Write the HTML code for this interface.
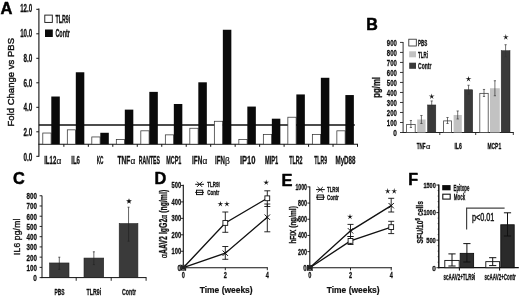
<!DOCTYPE html>
<html><head><meta charset="utf-8"><title>Figure</title>
<style>
html,body{margin:0;padding:0;background:#fff;}
body{width:520px;height:297px;overflow:hidden;font-family:"Liberation Sans",sans-serif;}
svg{display:block;font-family:"Liberation Sans",sans-serif;}
</style></head><body>
<svg width="520" height="297" viewBox="0 0 520 297">
<rect x="0" y="0" width="520" height="297" fill="#fff"/>
<g style="filter:blur(0.45px)">
<text x="0.4" y="13.6" font-size="16.5" font-weight="bold" fill="#000" stroke="#000" stroke-width="0.5" stroke-linejoin="round">A</text>
<text x="366.2" y="30.3" font-size="16.0" font-weight="bold" fill="#000" stroke="#000" stroke-width="0.5" stroke-linejoin="round">B</text>
<text x="12.9" y="184.3" font-size="16.3" font-weight="bold" fill="#000" stroke="#000" stroke-width="0.5" stroke-linejoin="round">C</text>
<text x="154.6" y="184.4" font-size="16.3" font-weight="bold" fill="#000" stroke="#000" stroke-width="0.5" stroke-linejoin="round">D</text>
<text x="281.5" y="186.0" font-size="16.4" font-weight="bold" fill="#000" stroke="#000" stroke-width="0.5" stroke-linejoin="round">E</text>
<text x="408.2" y="184.6" font-size="16" font-weight="bold" fill="#000" stroke="#000" stroke-width="0.5" stroke-linejoin="round">F</text>
<line x1="38.9" y1="8.6" x2="38.9" y2="156.8" stroke="#111" stroke-width="1.1"/>
<line x1="36.3" y1="156.3" x2="38.9" y2="156.3" stroke="#111" stroke-width="1.0"/>
<text x="32.2" y="161.2" font-size="10.4" font-weight="bold" text-anchor="end" fill="#111" textLength="8.8" lengthAdjust="spacingAndGlyphs" stroke="#111" stroke-width="0.3">0.0</text>
<line x1="36.3" y1="131.8" x2="38.9" y2="131.8" stroke="#111" stroke-width="1.0"/>
<text x="32.2" y="136.32" font-size="10.4" font-weight="bold" text-anchor="end" fill="#111" textLength="8.8" lengthAdjust="spacingAndGlyphs" stroke="#111" stroke-width="0.3">2.0</text>
<line x1="36.3" y1="107.30000000000001" x2="38.9" y2="107.30000000000001" stroke="#111" stroke-width="1.0"/>
<text x="32.2" y="111.44" font-size="10.4" font-weight="bold" text-anchor="end" fill="#111" textLength="8.8" lengthAdjust="spacingAndGlyphs" stroke="#111" stroke-width="0.3">4.0</text>
<line x1="36.3" y1="82.80000000000001" x2="38.9" y2="82.80000000000001" stroke="#111" stroke-width="1.0"/>
<text x="32.2" y="86.55999999999999" font-size="10.4" font-weight="bold" text-anchor="end" fill="#111" textLength="8.8" lengthAdjust="spacingAndGlyphs" stroke="#111" stroke-width="0.3">6.0</text>
<line x1="36.3" y1="58.30000000000001" x2="38.9" y2="58.30000000000001" stroke="#111" stroke-width="1.0"/>
<text x="32.2" y="61.67999999999999" font-size="10.4" font-weight="bold" text-anchor="end" fill="#111" textLength="8.8" lengthAdjust="spacingAndGlyphs" stroke="#111" stroke-width="0.3">8.0</text>
<line x1="36.3" y1="33.80000000000001" x2="38.9" y2="33.80000000000001" stroke="#111" stroke-width="1.0"/>
<text x="32.2" y="36.8" font-size="10.4" font-weight="bold" text-anchor="end" fill="#111" textLength="12.0" lengthAdjust="spacingAndGlyphs" stroke="#111" stroke-width="0.3">10.0</text>
<line x1="36.3" y1="9.300000000000011" x2="38.9" y2="9.300000000000011" stroke="#111" stroke-width="1.0"/>
<text x="32.2" y="11.919999999999987" font-size="10.4" font-weight="bold" text-anchor="end" fill="#111" textLength="12.0" lengthAdjust="spacingAndGlyphs" stroke="#111" stroke-width="0.3">12.0</text>
<line x1="38.4" y1="144.2" x2="358.0" y2="144.2" stroke="#111" stroke-width="1.1"/>
<line x1="63.87" y1="144.2" x2="63.87" y2="146.8" stroke="#111" stroke-width="1.0"/>
<line x1="88.34" y1="144.2" x2="88.34" y2="146.8" stroke="#111" stroke-width="1.0"/>
<line x1="112.81" y1="144.2" x2="112.81" y2="146.8" stroke="#111" stroke-width="1.0"/>
<line x1="137.28" y1="144.2" x2="137.28" y2="146.8" stroke="#111" stroke-width="1.0"/>
<line x1="161.75" y1="144.2" x2="161.75" y2="146.8" stroke="#111" stroke-width="1.0"/>
<line x1="186.22" y1="144.2" x2="186.22" y2="146.8" stroke="#111" stroke-width="1.0"/>
<line x1="210.69" y1="144.2" x2="210.69" y2="146.8" stroke="#111" stroke-width="1.0"/>
<line x1="235.16" y1="144.2" x2="235.16" y2="146.8" stroke="#111" stroke-width="1.0"/>
<line x1="259.63" y1="144.2" x2="259.63" y2="146.8" stroke="#111" stroke-width="1.0"/>
<line x1="284.09999999999997" y1="144.2" x2="284.09999999999997" y2="146.8" stroke="#111" stroke-width="1.0"/>
<line x1="308.56999999999994" y1="144.2" x2="308.56999999999994" y2="146.8" stroke="#111" stroke-width="1.0"/>
<line x1="333.03999999999996" y1="144.2" x2="333.03999999999996" y2="146.8" stroke="#111" stroke-width="1.0"/>
<line x1="357.51" y1="144.2" x2="357.51" y2="146.8" stroke="#111" stroke-width="1.0"/>
<line x1="38.9" y1="125.0" x2="354.8" y2="125.0" stroke="#111" stroke-width="1.3"/>
<rect x="42.80" y="133.03" width="8.30" height="11.17" fill="#fff" stroke="#333" stroke-width="0.75"/>
<rect x="51.30" y="96.52" width="8.50" height="47.68" fill="#0a0a0a"/>
<text x="44.2" y="163.7" font-size="10.4" font-weight="bold" text-anchor="start" fill="#111" textLength="12.1" lengthAdjust="spacingAndGlyphs" stroke="#111" stroke-width="0.3">IL12</text>
<text x="56.6" y="163.7" font-size="8.4" font-weight="normal" text-anchor="start" fill="#111" stroke="#111" stroke-width="0.2">α</text>
<rect x="67.31" y="129.84" width="8.30" height="14.36" fill="#fff" stroke="#333" stroke-width="0.75"/>
<rect x="75.81" y="72.27" width="8.50" height="71.93" fill="#0a0a0a"/>
<text x="71.2" y="163.7" font-size="10.4" font-weight="bold" text-anchor="start" fill="#111" textLength="8.8" lengthAdjust="spacingAndGlyphs" stroke="#111" stroke-width="0.3">IL6</text>
<rect x="91.81" y="136.95" width="8.30" height="7.25" fill="#fff" stroke="#333" stroke-width="0.75"/>
<rect x="100.31" y="132.78" width="8.50" height="11.42" fill="#0a0a0a"/>
<text x="96.7" y="163.7" font-size="10.4" font-weight="bold" text-anchor="start" fill="#111" textLength="6.8" lengthAdjust="spacingAndGlyphs" stroke="#111" stroke-width="0.3">KC</text>
<rect x="116.31" y="139.40" width="8.30" height="4.80" fill="#fff" stroke="#333" stroke-width="0.75"/>
<rect x="124.81" y="109.63" width="8.50" height="34.57" fill="#0a0a0a"/>
<text x="117.5" y="163.7" font-size="10.4" font-weight="bold" text-anchor="start" fill="#111" textLength="12.8" lengthAdjust="spacingAndGlyphs" stroke="#111" stroke-width="0.3">TNF</text>
<text x="130.6" y="163.7" font-size="8.4" font-weight="normal" text-anchor="start" fill="#111" stroke="#111" stroke-width="0.2">α</text>
<rect x="140.82" y="130.82" width="8.30" height="13.38" fill="#fff" stroke="#333" stroke-width="0.75"/>
<rect x="149.32" y="91.87" width="8.50" height="52.33" fill="#0a0a0a"/>
<text x="138.7" y="163.7" font-size="10.4" font-weight="bold" text-anchor="start" fill="#111" textLength="21.3" lengthAdjust="spacingAndGlyphs" stroke="#111" stroke-width="0.3">RANTES</text>
<rect x="165.33" y="134.86" width="8.30" height="9.34" fill="#fff" stroke="#333" stroke-width="0.75"/>
<rect x="173.83" y="103.99" width="8.50" height="40.21" fill="#0a0a0a"/>
<text x="166.2" y="163.7" font-size="10.4" font-weight="bold" text-anchor="start" fill="#111" textLength="15.1" lengthAdjust="spacingAndGlyphs" stroke="#111" stroke-width="0.3">MCP1</text>
<rect x="189.83" y="128.25" width="8.30" height="15.95" fill="#fff" stroke="#333" stroke-width="0.75"/>
<rect x="198.33" y="82.31" width="8.50" height="61.89" fill="#0a0a0a"/>
<text x="192.0" y="163.7" font-size="10.4" font-weight="bold" text-anchor="start" fill="#111" textLength="10.3" lengthAdjust="spacingAndGlyphs" stroke="#111" stroke-width="0.3">IFN</text>
<text x="202.6" y="163.7" font-size="8.4" font-weight="normal" text-anchor="start" fill="#111" stroke="#111" stroke-width="0.2">α</text>
<rect x="214.34" y="121.27" width="8.30" height="22.93" fill="#fff" stroke="#333" stroke-width="0.75"/>
<rect x="222.84" y="29.76" width="8.50" height="114.44" fill="#0a0a0a"/>
<text x="215.0" y="163.7" font-size="10.4" font-weight="bold" text-anchor="start" fill="#111" textLength="9.8" lengthAdjust="spacingAndGlyphs" stroke="#111" stroke-width="0.3">IFN</text>
<text x="225.1" y="163.7" font-size="8.4" font-weight="normal" text-anchor="start" fill="#111" stroke="#111" stroke-width="0.2">β</text>
<rect x="238.84" y="139.40" width="8.30" height="4.80" fill="#fff" stroke="#333" stroke-width="0.75"/>
<rect x="247.34" y="106.57" width="8.50" height="37.63" fill="#0a0a0a"/>
<text x="240.0" y="163.7" font-size="10.4" font-weight="bold" text-anchor="start" fill="#111" textLength="15.5" lengthAdjust="spacingAndGlyphs" stroke="#111" stroke-width="0.3">IP10</text>
<rect x="263.34" y="134.37" width="8.30" height="9.83" fill="#fff" stroke="#333" stroke-width="0.75"/>
<rect x="271.84" y="118.69" width="8.50" height="25.51" fill="#0a0a0a"/>
<text x="265.0" y="163.7" font-size="10.4" font-weight="bold" text-anchor="start" fill="#111" textLength="13.3" lengthAdjust="spacingAndGlyphs" stroke="#111" stroke-width="0.3">MIP1</text>
<rect x="287.85" y="117.22" width="8.30" height="26.98" fill="#fff" stroke="#333" stroke-width="0.75"/>
<rect x="296.35" y="94.44" width="8.50" height="49.76" fill="#0a0a0a"/>
<text x="289.2" y="163.7" font-size="10.4" font-weight="bold" text-anchor="start" fill="#111" textLength="13.3" lengthAdjust="spacingAndGlyphs" stroke="#111" stroke-width="0.3">TLR2</text>
<rect x="312.35" y="134.37" width="8.30" height="9.83" fill="#fff" stroke="#333" stroke-width="0.75"/>
<rect x="320.85" y="77.78" width="8.50" height="66.42" fill="#0a0a0a"/>
<text x="314.2" y="163.7" font-size="10.4" font-weight="bold" text-anchor="start" fill="#111" textLength="12.8" lengthAdjust="spacingAndGlyphs" stroke="#111" stroke-width="0.3">TLR9</text>
<rect x="336.86" y="130.82" width="8.30" height="13.38" fill="#fff" stroke="#333" stroke-width="0.75"/>
<rect x="345.36" y="95.05" width="8.50" height="49.15" fill="#0a0a0a"/>
<text x="335.5" y="163.7" font-size="10.4" font-weight="bold" text-anchor="start" fill="#111" textLength="20.0" lengthAdjust="spacingAndGlyphs" stroke="#111" stroke-width="0.3">MyD88</text>
<rect x="44.80" y="15.10" width="7.50" height="7.30" fill="#fff" stroke="#111" stroke-width="0.9"/>
<rect x="45.00" y="29.50" width="7.80" height="7.50" fill="#0a0a0a"/>
<text x="55.4" y="22.9" font-size="11.6" font-weight="bold" text-anchor="start" fill="#111" textLength="14.8" lengthAdjust="spacingAndGlyphs" stroke="#111" stroke-width="0.3">TLR9i</text>
<text x="55.4" y="36.9" font-size="11.6" font-weight="bold" text-anchor="start" fill="#111" textLength="14.6" lengthAdjust="spacingAndGlyphs" stroke="#111" stroke-width="0.3">Contr</text>
<text transform="translate(13.9 126.6) rotate(-90)" font-size="9.5" font-weight="normal" fill="#111" stroke="#111" stroke-width="0.4" textLength="88.6" lengthAdjust="spacing">Fold Change vs PBS</text>
<line x1="403.1" y1="42.0" x2="403.1" y2="133.0" stroke="#333" stroke-width="1.0"/>
<line x1="400.0" y1="132.5" x2="403.1" y2="132.5" stroke="#222" stroke-width="0.9"/>
<text x="396.8" y="135.9" font-size="9.6" font-weight="bold" text-anchor="end" fill="#111" textLength="3.6" lengthAdjust="spacingAndGlyphs" stroke="#111" stroke-width="0.3">0</text>
<line x1="400.0" y1="122.49" x2="403.1" y2="122.49" stroke="#222" stroke-width="0.9"/>
<text x="396.8" y="125.89" font-size="9.6" font-weight="bold" text-anchor="end" fill="#111" textLength="10.0" lengthAdjust="spacingAndGlyphs" stroke="#111" stroke-width="0.3">100</text>
<line x1="400.0" y1="112.48" x2="403.1" y2="112.48" stroke="#222" stroke-width="0.9"/>
<text x="396.8" y="115.88000000000001" font-size="9.6" font-weight="bold" text-anchor="end" fill="#111" textLength="10.0" lengthAdjust="spacingAndGlyphs" stroke="#111" stroke-width="0.3">200</text>
<line x1="400.0" y1="102.47" x2="403.1" y2="102.47" stroke="#222" stroke-width="0.9"/>
<text x="396.8" y="105.87" font-size="9.6" font-weight="bold" text-anchor="end" fill="#111" textLength="10.0" lengthAdjust="spacingAndGlyphs" stroke="#111" stroke-width="0.3">300</text>
<line x1="400.0" y1="92.46000000000001" x2="403.1" y2="92.46000000000001" stroke="#222" stroke-width="0.9"/>
<text x="396.8" y="95.86000000000001" font-size="9.6" font-weight="bold" text-anchor="end" fill="#111" textLength="10.0" lengthAdjust="spacingAndGlyphs" stroke="#111" stroke-width="0.3">400</text>
<line x1="400.0" y1="82.45" x2="403.1" y2="82.45" stroke="#222" stroke-width="0.9"/>
<text x="396.8" y="85.85000000000001" font-size="9.6" font-weight="bold" text-anchor="end" fill="#111" textLength="10.0" lengthAdjust="spacingAndGlyphs" stroke="#111" stroke-width="0.3">500</text>
<line x1="400.0" y1="72.44" x2="403.1" y2="72.44" stroke="#222" stroke-width="0.9"/>
<text x="396.8" y="75.84" font-size="9.6" font-weight="bold" text-anchor="end" fill="#111" textLength="10.0" lengthAdjust="spacingAndGlyphs" stroke="#111" stroke-width="0.3">600</text>
<line x1="400.0" y1="62.43000000000001" x2="403.1" y2="62.43000000000001" stroke="#222" stroke-width="0.9"/>
<text x="396.8" y="65.83000000000001" font-size="9.6" font-weight="bold" text-anchor="end" fill="#111" textLength="10.0" lengthAdjust="spacingAndGlyphs" stroke="#111" stroke-width="0.3">700</text>
<line x1="400.0" y1="52.42" x2="403.1" y2="52.42" stroke="#222" stroke-width="0.9"/>
<text x="396.8" y="55.82" font-size="9.6" font-weight="bold" text-anchor="end" fill="#111" textLength="10.0" lengthAdjust="spacingAndGlyphs" stroke="#111" stroke-width="0.3">800</text>
<line x1="400.0" y1="42.41000000000001" x2="403.1" y2="42.41000000000001" stroke="#222" stroke-width="0.9"/>
<text x="396.8" y="45.81000000000001" font-size="9.6" font-weight="bold" text-anchor="end" fill="#111" textLength="10.0" lengthAdjust="spacingAndGlyphs" stroke="#111" stroke-width="0.3">900</text>
<line x1="402.70000000000005" y1="132.5" x2="513.8" y2="132.5" stroke="#222" stroke-width="1.0"/>
<line x1="439.8" y1="132.5" x2="439.8" y2="135.0" stroke="#222" stroke-width="0.9"/>
<line x1="475.7" y1="132.5" x2="475.7" y2="135.0" stroke="#222" stroke-width="0.9"/>
<line x1="513.3" y1="132.5" x2="513.3" y2="135.0" stroke="#222" stroke-width="0.9"/>
<rect x="406.60" y="124.39" width="8.60" height="8.11" fill="#fff" stroke="#444" stroke-width="0.8"/>
<line x1="410.9" y1="120.488" x2="410.9" y2="127.495" stroke="#333" stroke-width="0.7"/>
<line x1="409.79999999999995" y1="120.488" x2="412.0" y2="120.488" stroke="#333" stroke-width="0.7"/>
<line x1="409.79999999999995" y1="127.495" x2="412.0" y2="127.495" stroke="#333" stroke-width="0.7"/>
<rect x="417.20" y="119.49" width="8.40" height="13.01" fill="#c2c2c2"/>
<line x1="421.4" y1="115.483" x2="421.4" y2="123.491" stroke="#333" stroke-width="0.7"/>
<line x1="420.29999999999995" y1="115.483" x2="422.5" y2="115.483" stroke="#333" stroke-width="0.7"/>
<line x1="420.29999999999995" y1="123.491" x2="422.5" y2="123.491" stroke="#333" stroke-width="0.7"/>
<rect x="427.60" y="104.97" width="8.20" height="27.53" fill="#3a3a3a" stroke="#222" stroke-width="0.5"/>
<line x1="431.70000000000005" y1="100.9685" x2="431.70000000000005" y2="108.9765" stroke="#333" stroke-width="0.7"/>
<line x1="430.6" y1="100.9685" x2="432.80000000000007" y2="100.9685" stroke="#333" stroke-width="0.7"/>
<line x1="430.6" y1="108.9765" x2="432.80000000000007" y2="108.9765" stroke="#333" stroke-width="0.7"/>
<rect x="443.60" y="120.89" width="7.80" height="11.61" fill="#fff" stroke="#444" stroke-width="0.8"/>
<line x1="447.5" y1="117.485" x2="447.5" y2="123.491" stroke="#333" stroke-width="0.7"/>
<line x1="446.4" y1="117.485" x2="448.6" y2="117.485" stroke="#333" stroke-width="0.7"/>
<line x1="446.4" y1="123.491" x2="448.6" y2="123.491" stroke="#333" stroke-width="0.7"/>
<rect x="453.60" y="114.98" width="8.20" height="17.52" fill="#c2c2c2"/>
<line x1="457.70000000000005" y1="110.9785" x2="457.70000000000005" y2="118.9865" stroke="#333" stroke-width="0.7"/>
<line x1="456.6" y1="110.9785" x2="458.80000000000007" y2="110.9785" stroke="#333" stroke-width="0.7"/>
<line x1="456.6" y1="118.9865" x2="458.80000000000007" y2="118.9865" stroke="#333" stroke-width="0.7"/>
<rect x="464.40" y="89.76" width="8.30" height="42.74" fill="#3a3a3a" stroke="#222" stroke-width="0.5"/>
<line x1="468.54999999999995" y1="85.25280000000001" x2="468.54999999999995" y2="94.2618" stroke="#333" stroke-width="0.7"/>
<line x1="467.44999999999993" y1="85.25280000000001" x2="469.65" y2="85.25280000000001" stroke="#333" stroke-width="0.7"/>
<line x1="467.44999999999993" y1="94.2618" x2="469.65" y2="94.2618" stroke="#333" stroke-width="0.7"/>
<rect x="479.80" y="93.36" width="8.40" height="39.14" fill="#fff" stroke="#444" stroke-width="0.8"/>
<line x1="484.0" y1="89.457" x2="484.0" y2="96.464" stroke="#333" stroke-width="0.7"/>
<line x1="482.9" y1="89.457" x2="485.1" y2="89.457" stroke="#333" stroke-width="0.7"/>
<line x1="482.9" y1="96.464" x2="485.1" y2="96.464" stroke="#333" stroke-width="0.7"/>
<rect x="490.00" y="88.26" width="9.80" height="44.24" fill="#c2c2c2"/>
<line x1="494.9" y1="80.7483" x2="494.9" y2="95.7633" stroke="#333" stroke-width="0.7"/>
<line x1="493.79999999999995" y1="80.7483" x2="496.0" y2="80.7483" stroke="#333" stroke-width="0.7"/>
<line x1="493.79999999999995" y1="95.7633" x2="496.0" y2="95.7633" stroke="#333" stroke-width="0.7"/>
<rect x="501.20" y="50.72" width="8.80" height="81.78" fill="#3a3a3a" stroke="#222" stroke-width="0.5"/>
<line x1="505.6" y1="44.7123" x2="505.6" y2="56.7243" stroke="#333" stroke-width="0.7"/>
<line x1="504.5" y1="44.7123" x2="506.70000000000005" y2="44.7123" stroke="#333" stroke-width="0.7"/>
<line x1="504.5" y1="56.7243" x2="506.70000000000005" y2="56.7243" stroke="#333" stroke-width="0.7"/>
<polygon points="431.70,93.40 432.25,95.75 434.65,95.54 432.58,96.79 433.52,99.01 431.70,97.43 429.88,99.01 430.82,96.79 428.75,95.54 431.15,95.75" fill="#111"/>
<polygon points="468.50,75.90 469.05,78.25 471.45,78.04 469.38,79.29 470.32,81.51 468.50,79.93 466.68,81.51 467.62,79.29 465.55,78.04 467.95,78.25" fill="#111"/>
<polygon points="505.80,34.10 506.35,36.45 508.75,36.24 506.68,37.49 507.62,39.71 505.80,38.13 503.98,39.71 504.92,37.49 502.85,36.24 505.25,36.45" fill="#111"/>
<text x="416.8" y="149.2" font-size="9.2" font-weight="bold" text-anchor="start" fill="#111" textLength="8.8" lengthAdjust="spacingAndGlyphs" stroke="#111" stroke-width="0.3">TNF</text>
<text x="425.9" y="149.2" font-size="7.6" font-weight="normal" text-anchor="start" fill="#111" stroke="#111" stroke-width="0.2">α</text>
<text x="454.4" y="149.2" font-size="9.2" font-weight="bold" text-anchor="start" fill="#111" textLength="7.4" lengthAdjust="spacingAndGlyphs" stroke="#111" stroke-width="0.3">IL6</text>
<text x="487.5" y="149.2" font-size="9.2" font-weight="bold" text-anchor="start" fill="#111" textLength="13.6" lengthAdjust="spacingAndGlyphs" stroke="#111" stroke-width="0.3">MCP1</text>
<rect x="408.80" y="39.20" width="7.50" height="6.80" fill="#fff" stroke="#222" stroke-width="0.8"/>
<rect x="409.20" y="51.30" width="6.80" height="6.00" fill="#c2c2c2"/>
<rect x="409.20" y="62.70" width="6.80" height="6.10" fill="#3a3a3a"/>
<text x="418.0" y="46.0" font-size="9.6" font-weight="bold" text-anchor="start" fill="#111" textLength="9.4" lengthAdjust="spacingAndGlyphs" stroke="#111" stroke-width="0.3">PBS</text>
<text x="418.0" y="57.6" font-size="9.6" font-weight="bold" text-anchor="start" fill="#111" textLength="10.0" lengthAdjust="spacingAndGlyphs" stroke="#111" stroke-width="0.3">TLRi</text>
<text x="418.0" y="69.2" font-size="9.6" font-weight="bold" text-anchor="start" fill="#111" textLength="13.4" lengthAdjust="spacingAndGlyphs" stroke="#111" stroke-width="0.3">Contr</text>
<text transform="translate(380.3 97.8) rotate(-90)" font-size="10.0" font-weight="bold" text-anchor="start" fill="#111" textLength="20.8" lengthAdjust="spacingAndGlyphs" stroke="#111" stroke-width="0.3">pg/ml</text>
<line x1="42.0" y1="195.6" x2="42.0" y2="278.1" stroke="#111" stroke-width="1.0"/>
<line x1="39.6" y1="277.6" x2="42.0" y2="277.6" stroke="#111" stroke-width="0.9"/>
<text x="36.9" y="281.0" font-size="9.6" font-weight="bold" text-anchor="end" fill="#111" textLength="3.6" lengthAdjust="spacingAndGlyphs" stroke="#111" stroke-width="0.3">0</text>
<line x1="39.6" y1="267.37" x2="42.0" y2="267.37" stroke="#111" stroke-width="0.9"/>
<text x="36.9" y="270.77" font-size="9.6" font-weight="bold" text-anchor="end" fill="#111" textLength="10.4" lengthAdjust="spacingAndGlyphs" stroke="#111" stroke-width="0.3">100</text>
<line x1="39.6" y1="257.14000000000004" x2="42.0" y2="257.14000000000004" stroke="#111" stroke-width="0.9"/>
<text x="36.9" y="260.54" font-size="9.6" font-weight="bold" text-anchor="end" fill="#111" textLength="10.4" lengthAdjust="spacingAndGlyphs" stroke="#111" stroke-width="0.3">200</text>
<line x1="39.6" y1="246.91000000000003" x2="42.0" y2="246.91000000000003" stroke="#111" stroke-width="0.9"/>
<text x="36.9" y="250.31000000000003" font-size="9.6" font-weight="bold" text-anchor="end" fill="#111" textLength="10.4" lengthAdjust="spacingAndGlyphs" stroke="#111" stroke-width="0.3">300</text>
<line x1="39.6" y1="236.68" x2="42.0" y2="236.68" stroke="#111" stroke-width="0.9"/>
<text x="36.9" y="240.08" font-size="9.6" font-weight="bold" text-anchor="end" fill="#111" textLength="10.4" lengthAdjust="spacingAndGlyphs" stroke="#111" stroke-width="0.3">400</text>
<line x1="39.6" y1="226.45000000000002" x2="42.0" y2="226.45000000000002" stroke="#111" stroke-width="0.9"/>
<text x="36.9" y="229.85000000000002" font-size="9.6" font-weight="bold" text-anchor="end" fill="#111" textLength="10.4" lengthAdjust="spacingAndGlyphs" stroke="#111" stroke-width="0.3">500</text>
<line x1="39.6" y1="216.22000000000003" x2="42.0" y2="216.22000000000003" stroke="#111" stroke-width="0.9"/>
<text x="36.9" y="219.62000000000003" font-size="9.6" font-weight="bold" text-anchor="end" fill="#111" textLength="10.4" lengthAdjust="spacingAndGlyphs" stroke="#111" stroke-width="0.3">600</text>
<line x1="39.6" y1="205.99" x2="42.0" y2="205.99" stroke="#111" stroke-width="0.9"/>
<text x="36.9" y="209.39000000000001" font-size="9.6" font-weight="bold" text-anchor="end" fill="#111" textLength="10.4" lengthAdjust="spacingAndGlyphs" stroke="#111" stroke-width="0.3">700</text>
<line x1="39.6" y1="195.76000000000002" x2="42.0" y2="195.76000000000002" stroke="#111" stroke-width="0.9"/>
<text x="36.9" y="199.16000000000003" font-size="9.6" font-weight="bold" text-anchor="end" fill="#111" textLength="10.4" lengthAdjust="spacingAndGlyphs" stroke="#111" stroke-width="0.3">800</text>
<line x1="41.6" y1="277.6" x2="146.5" y2="277.6" stroke="#111" stroke-width="1.0"/>
<line x1="76.2" y1="277.6" x2="76.2" y2="280.8" stroke="#111" stroke-width="0.9"/>
<line x1="111.2" y1="277.6" x2="111.2" y2="280.8" stroke="#111" stroke-width="0.9"/>
<line x1="146.1" y1="277.6" x2="146.1" y2="280.8" stroke="#111" stroke-width="0.9"/>
<rect x="49.60" y="262.97" width="19.40" height="14.63" fill="#3a3a3a" stroke="#222" stroke-width="0.6"/>
<line x1="59.3" y1="257.2" x2="59.3" y2="269.4" stroke="#222" stroke-width="0.7"/>
<line x1="58.3" y1="257.2" x2="60.3" y2="257.2" stroke="#222" stroke-width="0.7"/>
<line x1="58.3" y1="269.4" x2="60.3" y2="269.4" stroke="#222" stroke-width="0.7"/>
<rect x="84.00" y="258.06" width="19.70" height="19.54" fill="#3a3a3a" stroke="#222" stroke-width="0.6"/>
<line x1="93.85" y1="251.8" x2="93.85" y2="264.6" stroke="#222" stroke-width="0.7"/>
<line x1="92.85" y1="251.8" x2="94.85" y2="251.8" stroke="#222" stroke-width="0.7"/>
<line x1="92.85" y1="264.6" x2="94.85" y2="264.6" stroke="#222" stroke-width="0.7"/>
<rect x="119.20" y="223.59" width="18.70" height="54.01" fill="#3a3a3a" stroke="#222" stroke-width="0.6"/>
<line x1="128.55" y1="207.2" x2="128.55" y2="241.2" stroke="#222" stroke-width="0.7"/>
<line x1="127.55000000000001" y1="207.2" x2="129.55" y2="207.2" stroke="#222" stroke-width="0.7"/>
<line x1="127.55000000000001" y1="241.2" x2="129.55" y2="241.2" stroke="#222" stroke-width="0.7"/>
<polygon points="129.00,198.30 129.74,200.28 131.85,200.37 130.20,201.69 130.76,203.73 129.00,202.56 127.24,203.73 127.80,201.69 126.15,200.37 128.26,200.28" fill="#111"/>
<text x="54.4" y="295.3" font-size="9.8" font-weight="bold" text-anchor="start" fill="#111" textLength="10.2" lengthAdjust="spacingAndGlyphs" stroke="#111" stroke-width="0.3">PBS</text>
<text x="86.6" y="295.3" font-size="9.8" font-weight="bold" text-anchor="start" fill="#111" textLength="14.6" lengthAdjust="spacingAndGlyphs" stroke="#111" stroke-width="0.3">TLR9i</text>
<text x="122.0" y="295.3" font-size="9.8" font-weight="bold" text-anchor="start" fill="#111" textLength="14.0" lengthAdjust="spacingAndGlyphs" stroke="#111" stroke-width="0.3">Contr</text>
<text transform="translate(20.2 255.0) rotate(-90)" font-size="8.5" font-weight="normal" fill="#111" stroke="#111" stroke-width="0.35" textLength="36.3" lengthAdjust="spacing">IL6 pg/ml</text>
<line x1="183.3" y1="184.8" x2="183.3" y2="268.2" stroke="#111" stroke-width="1.1"/>
<line x1="181.0" y1="267.7" x2="183.3" y2="267.7" stroke="#111" stroke-width="0.9"/>
<line x1="181.0" y1="251.25" x2="183.3" y2="251.25" stroke="#111" stroke-width="0.9"/>
<text x="181.2" y="254.15" font-size="8.3" font-weight="bold" text-anchor="end" fill="#111" textLength="9.6" lengthAdjust="spacingAndGlyphs" stroke="#111" stroke-width="0.3">100</text>
<line x1="181.0" y1="234.79999999999998" x2="183.3" y2="234.79999999999998" stroke="#111" stroke-width="0.9"/>
<text x="181.2" y="237.7" font-size="8.3" font-weight="bold" text-anchor="end" fill="#111" textLength="9.6" lengthAdjust="spacingAndGlyphs" stroke="#111" stroke-width="0.3">200</text>
<line x1="181.0" y1="218.35" x2="183.3" y2="218.35" stroke="#111" stroke-width="0.9"/>
<text x="181.2" y="221.25" font-size="8.3" font-weight="bold" text-anchor="end" fill="#111" textLength="9.6" lengthAdjust="spacingAndGlyphs" stroke="#111" stroke-width="0.3">300</text>
<line x1="181.0" y1="201.89999999999998" x2="183.3" y2="201.89999999999998" stroke="#111" stroke-width="0.9"/>
<text x="181.2" y="204.79999999999998" font-size="8.3" font-weight="bold" text-anchor="end" fill="#111" textLength="9.6" lengthAdjust="spacingAndGlyphs" stroke="#111" stroke-width="0.3">400</text>
<line x1="181.0" y1="185.45" x2="183.3" y2="185.45" stroke="#111" stroke-width="0.9"/>
<text x="181.2" y="188.35" font-size="8.3" font-weight="bold" text-anchor="end" fill="#111" textLength="9.6" lengthAdjust="spacingAndGlyphs" stroke="#111" stroke-width="0.3">500</text>
<line x1="182.9" y1="267.7" x2="267.8" y2="267.7" stroke="#111" stroke-width="1.1"/>
<line x1="183.3" y1="267.7" x2="183.3" y2="270.2" stroke="#111" stroke-width="0.9"/>
<text x="183.4" y="277.8" font-size="8.2" font-weight="bold" text-anchor="middle" fill="#111" textLength="3.1" lengthAdjust="spacingAndGlyphs" stroke="#111" stroke-width="0.3">0</text>
<line x1="225.3" y1="267.7" x2="225.3" y2="270.2" stroke="#111" stroke-width="0.9"/>
<text x="225.4" y="277.8" font-size="8.2" font-weight="bold" text-anchor="middle" fill="#111" textLength="3.1" lengthAdjust="spacingAndGlyphs" stroke="#111" stroke-width="0.3">2</text>
<line x1="267.3" y1="267.7" x2="267.3" y2="270.2" stroke="#111" stroke-width="0.9"/>
<text x="267.40000000000003" y="277.8" font-size="8.2" font-weight="bold" text-anchor="middle" fill="#111" textLength="3.1" lengthAdjust="spacingAndGlyphs" stroke="#111" stroke-width="0.3">4</text>
<line x1="225.3" y1="212.0" x2="225.3" y2="232.3" stroke="#111" stroke-width="0.9"/>
<line x1="222.3" y1="212.0" x2="228.3" y2="212.0" stroke="#111" stroke-width="0.9"/>
<line x1="222.3" y1="232.3" x2="228.3" y2="232.3" stroke="#111" stroke-width="0.9"/>
<line x1="267.3" y1="190.8" x2="267.3" y2="206.5" stroke="#111" stroke-width="0.9"/>
<line x1="264.3" y1="190.8" x2="270.3" y2="190.8" stroke="#111" stroke-width="0.9"/>
<line x1="264.3" y1="206.5" x2="270.3" y2="206.5" stroke="#111" stroke-width="0.9"/>
<line x1="225.3" y1="246.5" x2="225.3" y2="259.3" stroke="#111" stroke-width="0.9"/>
<line x1="222.3" y1="246.5" x2="228.3" y2="246.5" stroke="#111" stroke-width="0.9"/>
<line x1="222.3" y1="259.3" x2="228.3" y2="259.3" stroke="#111" stroke-width="0.9"/>
<line x1="267.3" y1="204.0" x2="267.3" y2="231.8" stroke="#111" stroke-width="0.9"/>
<line x1="264.3" y1="204.0" x2="270.3" y2="204.0" stroke="#111" stroke-width="0.9"/>
<line x1="264.3" y1="231.8" x2="270.3" y2="231.8" stroke="#111" stroke-width="0.9"/>
<polyline points="183.30,267.70 225.30,253.22 267.30,217.20" fill="none" stroke="#111" stroke-width="1.35"/>
<polyline points="183.30,267.70 225.30,222.96 267.30,198.28" fill="none" stroke="#111" stroke-width="1.35"/>
<rect x="180.90" y="265.30" width="4.80" height="4.80" fill="#fff" stroke="#111" stroke-width="0.9"/>
<rect x="222.90" y="220.56" width="4.80" height="4.80" fill="#fff" stroke="#111" stroke-width="0.9"/>
<rect x="264.90" y="195.88" width="4.80" height="4.80" fill="#fff" stroke="#111" stroke-width="0.9"/>
<line x1="180.60000000000002" y1="265.0" x2="186.0" y2="270.4" stroke="#111" stroke-width="1.0"/>
<line x1="180.60000000000002" y1="270.4" x2="186.0" y2="265.0" stroke="#111" stroke-width="1.0"/>
<line x1="222.60000000000002" y1="250.524" x2="228.0" y2="255.92399999999998" stroke="#111" stroke-width="1.0"/>
<line x1="222.60000000000002" y1="255.92399999999998" x2="228.0" y2="250.524" stroke="#111" stroke-width="1.0"/>
<line x1="264.6" y1="214.4985" x2="270.0" y2="219.89849999999998" stroke="#111" stroke-width="1.0"/>
<line x1="264.6" y1="219.89849999999998" x2="270.0" y2="214.4985" stroke="#111" stroke-width="1.0"/>
<rect x="181.10" y="265.90" width="4.60" height="3.60" fill="#222"/>
<text x="181.0" y="270.6" font-size="8.8" font-weight="bold" text-anchor="end" fill="#111" textLength="3.4" lengthAdjust="spacingAndGlyphs" stroke="#111" stroke-width="0.3">0</text>
<polygon points="220.40,200.90 220.95,203.25 223.35,203.04 221.28,204.29 222.22,206.51 220.40,204.93 218.58,206.51 219.52,204.29 217.45,203.04 219.85,203.25" fill="#111"/>
<polygon points="226.90,200.90 227.45,203.25 229.85,203.04 227.78,204.29 228.72,206.51 226.90,204.93 225.08,206.51 226.02,204.29 223.95,203.04 226.35,203.25" fill="#111"/>
<polygon points="266.20,179.50 266.75,181.85 269.15,181.64 267.08,182.89 268.02,185.11 266.20,183.53 264.38,185.11 265.32,182.89 263.25,181.64 265.65,181.85" fill="#111"/>
<line x1="195.2" y1="184.3" x2="204.0" y2="184.3" stroke="#111" stroke-width="1.0"/>
<line x1="197.0" y1="181.70000000000002" x2="202.2" y2="186.9" stroke="#111" stroke-width="1.0"/>
<line x1="197.0" y1="186.9" x2="202.2" y2="181.70000000000002" stroke="#111" stroke-width="1.0"/>
<rect x="196.50" y="190.20" width="6.20" height="4.40" fill="#fff" stroke="#111" stroke-width="1.0"/>
<line x1="195.2" y1="192.4" x2="204.0" y2="192.4" stroke="#111" stroke-width="1.0"/>
<text x="207.3" y="186.9" font-size="7.4" font-weight="bold" text-anchor="start" fill="#111" textLength="12.4" lengthAdjust="spacingAndGlyphs" stroke="#111" stroke-width="0.3">TLR9i</text>
<text x="207.3" y="195.1" font-size="7.4" font-weight="bold" text-anchor="start" fill="#111" textLength="12.0" lengthAdjust="spacingAndGlyphs" stroke="#111" stroke-width="0.3">Contr</text>
<text transform="translate(167.4 257.9) rotate(-90)" font-size="10.0" font-weight="bold" text-anchor="start" fill="#111" textLength="68.2" lengthAdjust="spacingAndGlyphs" stroke="#111" stroke-width="0.3"><tspan font-size="9.6" font-weight="normal">α</tspan>AAV2 IgG2<tspan font-size="9.6" font-weight="normal">α</tspan> (ng/ml)</text>
<text x="226.2" y="293.1" font-size="8.45" font-weight="bold" text-anchor="middle" fill="#111" stroke="#111" stroke-width="0.2">Time (weeks)</text>
<line x1="309.8" y1="186.4" x2="309.8" y2="268.3" stroke="#111" stroke-width="1.1"/>
<line x1="307.4" y1="267.8" x2="309.8" y2="267.8" stroke="#111" stroke-width="0.9"/>
<line x1="307.4" y1="251.62" x2="309.8" y2="251.62" stroke="#111" stroke-width="0.9"/>
<text x="307.0" y="254.52" font-size="8.3" font-weight="bold" text-anchor="end" fill="#111" textLength="8.9" lengthAdjust="spacingAndGlyphs" stroke="#111" stroke-width="0.3">200</text>
<line x1="307.4" y1="235.44" x2="309.8" y2="235.44" stroke="#111" stroke-width="0.9"/>
<text x="307.0" y="238.34" font-size="8.3" font-weight="bold" text-anchor="end" fill="#111" textLength="8.9" lengthAdjust="spacingAndGlyphs" stroke="#111" stroke-width="0.3">400</text>
<line x1="307.4" y1="219.26000000000002" x2="309.8" y2="219.26000000000002" stroke="#111" stroke-width="0.9"/>
<text x="307.0" y="222.16000000000003" font-size="8.3" font-weight="bold" text-anchor="end" fill="#111" textLength="8.9" lengthAdjust="spacingAndGlyphs" stroke="#111" stroke-width="0.3">600</text>
<line x1="307.4" y1="203.08" x2="309.8" y2="203.08" stroke="#111" stroke-width="0.9"/>
<text x="307.0" y="205.98000000000002" font-size="8.3" font-weight="bold" text-anchor="end" fill="#111" textLength="8.9" lengthAdjust="spacingAndGlyphs" stroke="#111" stroke-width="0.3">800</text>
<line x1="307.4" y1="186.9" x2="309.8" y2="186.9" stroke="#111" stroke-width="0.9"/>
<text x="307.0" y="189.8" font-size="8.3" font-weight="bold" text-anchor="end" fill="#111" textLength="11.6" lengthAdjust="spacingAndGlyphs" stroke="#111" stroke-width="0.3">1000</text>
<line x1="309.40000000000003" y1="267.8" x2="392.0" y2="267.8" stroke="#111" stroke-width="1.1"/>
<line x1="309.8" y1="267.8" x2="309.8" y2="270.3" stroke="#111" stroke-width="0.9"/>
<text x="309.90000000000003" y="277.8" font-size="8.2" font-weight="bold" text-anchor="middle" fill="#111" textLength="3.1" lengthAdjust="spacingAndGlyphs" stroke="#111" stroke-width="0.3">0</text>
<line x1="350.5" y1="267.8" x2="350.5" y2="270.3" stroke="#111" stroke-width="0.9"/>
<text x="350.6" y="277.8" font-size="8.2" font-weight="bold" text-anchor="middle" fill="#111" textLength="3.1" lengthAdjust="spacingAndGlyphs" stroke="#111" stroke-width="0.3">2</text>
<line x1="391.20000000000005" y1="267.8" x2="391.20000000000005" y2="270.3" stroke="#111" stroke-width="0.9"/>
<text x="391.30000000000007" y="277.8" font-size="8.2" font-weight="bold" text-anchor="middle" fill="#111" textLength="3.1" lengthAdjust="spacingAndGlyphs" stroke="#111" stroke-width="0.3">4</text>
<line x1="350.5" y1="224.4" x2="350.5" y2="236.5" stroke="#111" stroke-width="0.9"/>
<line x1="347.5" y1="224.4" x2="353.5" y2="224.4" stroke="#111" stroke-width="0.9"/>
<line x1="347.5" y1="236.5" x2="353.5" y2="236.5" stroke="#111" stroke-width="0.9"/>
<line x1="391.20000000000005" y1="198.3" x2="391.20000000000005" y2="212.0" stroke="#111" stroke-width="0.9"/>
<line x1="388.20000000000005" y1="198.3" x2="394.20000000000005" y2="198.3" stroke="#111" stroke-width="0.9"/>
<line x1="388.20000000000005" y1="212.0" x2="394.20000000000005" y2="212.0" stroke="#111" stroke-width="0.9"/>
<line x1="350.5" y1="236.5" x2="350.5" y2="244.5" stroke="#111" stroke-width="0.9"/>
<line x1="347.5" y1="236.5" x2="353.5" y2="236.5" stroke="#111" stroke-width="0.9"/>
<line x1="347.5" y1="244.5" x2="353.5" y2="244.5" stroke="#111" stroke-width="0.9"/>
<line x1="391.20000000000005" y1="221.3" x2="391.20000000000005" y2="233.6" stroke="#111" stroke-width="0.9"/>
<line x1="388.20000000000005" y1="221.3" x2="394.20000000000005" y2="221.3" stroke="#111" stroke-width="0.9"/>
<line x1="388.20000000000005" y1="233.6" x2="394.20000000000005" y2="233.6" stroke="#111" stroke-width="0.9"/>
<polyline points="309.80,267.80 350.50,230.83 391.20,205.67" fill="none" stroke="#111" stroke-width="1.35"/>
<polyline points="309.80,267.80 350.50,240.94 391.20,227.11" fill="none" stroke="#111" stroke-width="1.35"/>
<rect x="307.40" y="265.40" width="4.80" height="4.80" fill="#fff" stroke="#111" stroke-width="0.9"/>
<rect x="348.10" y="238.54" width="4.80" height="4.80" fill="#fff" stroke="#111" stroke-width="0.9"/>
<rect x="388.80" y="224.71" width="4.80" height="4.80" fill="#fff" stroke="#111" stroke-width="0.9"/>
<line x1="307.1" y1="265.1" x2="312.5" y2="270.5" stroke="#111" stroke-width="1.0"/>
<line x1="307.1" y1="270.5" x2="312.5" y2="265.1" stroke="#111" stroke-width="1.0"/>
<line x1="347.8" y1="228.12870000000004" x2="353.2" y2="233.52870000000001" stroke="#111" stroke-width="1.0"/>
<line x1="347.8" y1="233.52870000000001" x2="353.2" y2="228.12870000000004" stroke="#111" stroke-width="1.0"/>
<line x1="388.50000000000006" y1="202.96880000000002" x2="393.90000000000003" y2="208.3688" stroke="#111" stroke-width="1.0"/>
<line x1="388.50000000000006" y1="208.3688" x2="393.90000000000003" y2="202.96880000000002" stroke="#111" stroke-width="1.0"/>
<rect x="307.60" y="266.00" width="4.60" height="3.60" fill="#222"/>
<text x="306.6" y="270.6" font-size="8.3" font-weight="bold" text-anchor="end" fill="#111" textLength="3.4" lengthAdjust="spacingAndGlyphs" stroke="#111" stroke-width="0.3">0</text>
<polygon points="350.00,213.70 350.55,216.05 352.95,215.84 350.88,217.09 351.82,219.31 350.00,217.73 348.18,219.31 349.12,217.09 347.05,215.84 349.45,216.05" fill="#111"/>
<polygon points="387.70,188.10 388.25,190.45 390.65,190.24 388.58,191.49 389.52,193.71 387.70,192.13 385.88,193.71 386.82,191.49 384.75,190.24 387.15,190.45" fill="#111"/>
<polygon points="394.20,188.10 394.75,190.45 397.15,190.24 395.08,191.49 396.02,193.71 394.20,192.13 392.38,193.71 393.32,191.49 391.25,190.24 393.65,190.45" fill="#111"/>
<line x1="316.0" y1="189.6" x2="324.8" y2="189.6" stroke="#111" stroke-width="1.0"/>
<line x1="317.59999999999997" y1="187.0" x2="322.8" y2="192.2" stroke="#111" stroke-width="1.0"/>
<line x1="317.59999999999997" y1="192.2" x2="322.8" y2="187.0" stroke="#111" stroke-width="1.0"/>
<rect x="317.20" y="195.00" width="6.20" height="4.40" fill="#fff" stroke="#111" stroke-width="1.0"/>
<line x1="316.0" y1="197.2" x2="324.8" y2="197.2" stroke="#111" stroke-width="1.0"/>
<text x="327.0" y="192.1" font-size="7.4" font-weight="bold" text-anchor="start" fill="#111" textLength="12.2" lengthAdjust="spacingAndGlyphs" stroke="#111" stroke-width="0.3">TLR9i</text>
<text x="327.0" y="199.8" font-size="7.4" font-weight="bold" text-anchor="start" fill="#111" textLength="11.8" lengthAdjust="spacingAndGlyphs" stroke="#111" stroke-width="0.3">Contr</text>
<text transform="translate(295.8 243.6) rotate(-90)" font-size="9.4" font-weight="bold" text-anchor="start" fill="#111" textLength="37.4" lengthAdjust="spacingAndGlyphs" stroke="#111" stroke-width="0.3">hFIX (ng/ml)</text>
<text x="353.2" y="293.1" font-size="8.45" font-weight="bold" text-anchor="middle" fill="#111" stroke="#111" stroke-width="0.2">Time (weeks)</text>
<line x1="438.8" y1="184.6" x2="438.8" y2="268.3" stroke="#111" stroke-width="1.4"/>
<line x1="436.4" y1="267.7" x2="439.0" y2="267.7" stroke="#111" stroke-width="0.9"/>
<line x1="437.6" y1="262.19" x2="439.0" y2="262.19" stroke="#111" stroke-width="0.6"/>
<line x1="437.6" y1="256.68" x2="439.0" y2="256.68" stroke="#111" stroke-width="0.6"/>
<line x1="437.6" y1="251.17" x2="439.0" y2="251.17" stroke="#111" stroke-width="0.6"/>
<line x1="437.6" y1="245.66" x2="439.0" y2="245.66" stroke="#111" stroke-width="0.6"/>
<line x1="436.4" y1="240.14999999999998" x2="439.0" y2="240.14999999999998" stroke="#111" stroke-width="0.9"/>
<line x1="437.6" y1="234.64" x2="439.0" y2="234.64" stroke="#111" stroke-width="0.6"/>
<line x1="437.6" y1="229.13" x2="439.0" y2="229.13" stroke="#111" stroke-width="0.6"/>
<line x1="437.6" y1="223.61999999999998" x2="439.0" y2="223.61999999999998" stroke="#111" stroke-width="0.6"/>
<line x1="437.6" y1="218.10999999999999" x2="439.0" y2="218.10999999999999" stroke="#111" stroke-width="0.6"/>
<line x1="436.4" y1="212.6" x2="439.0" y2="212.6" stroke="#111" stroke-width="0.9"/>
<line x1="437.6" y1="207.08999999999997" x2="439.0" y2="207.08999999999997" stroke="#111" stroke-width="0.6"/>
<line x1="437.6" y1="201.57999999999998" x2="439.0" y2="201.57999999999998" stroke="#111" stroke-width="0.6"/>
<line x1="437.6" y1="196.07" x2="439.0" y2="196.07" stroke="#111" stroke-width="0.6"/>
<line x1="437.6" y1="190.56" x2="439.0" y2="190.56" stroke="#111" stroke-width="0.6"/>
<line x1="436.4" y1="185.04999999999998" x2="439.0" y2="185.04999999999998" stroke="#111" stroke-width="0.9"/>
<text x="435.8" y="270.5" font-size="7.8" font-weight="bold" text-anchor="end" fill="#111" textLength="3.6" lengthAdjust="spacingAndGlyphs" stroke="#111" stroke-width="0.3">0</text>
<text x="435.8" y="242.95" font-size="7.8" font-weight="bold" text-anchor="end" fill="#111" textLength="9.6" lengthAdjust="spacingAndGlyphs" stroke="#111" stroke-width="0.3">500</text>
<text x="435.8" y="215.4" font-size="7.8" font-weight="bold" text-anchor="end" fill="#111" textLength="12.4" lengthAdjust="spacingAndGlyphs" stroke="#111" stroke-width="0.3">1000</text>
<text x="435.8" y="187.85" font-size="7.8" font-weight="bold" text-anchor="end" fill="#111" textLength="12.4" lengthAdjust="spacingAndGlyphs" stroke="#111" stroke-width="0.3">1500</text>
<line x1="438.4" y1="267.6" x2="518.8" y2="267.6" stroke="#111" stroke-width="1.3"/>
<line x1="459.4" y1="267.7" x2="459.4" y2="270.6" stroke="#111" stroke-width="1.0"/>
<line x1="499.6" y1="267.7" x2="499.6" y2="270.6" stroke="#111" stroke-width="1.0"/>
<rect x="444.80" y="260.43" width="14.40" height="7.27" fill="#fff" stroke="#111" stroke-width="0.9"/>
<line x1="452.0" y1="253.9" x2="452.0" y2="266.0" stroke="#111" stroke-width="1.0"/>
<line x1="448.4" y1="253.9" x2="455.6" y2="253.9" stroke="#111" stroke-width="1.0"/>
<line x1="448.4" y1="266.0" x2="455.6" y2="266.0" stroke="#111" stroke-width="1.0"/>
<rect x="460.20" y="253.37" width="13.40" height="14.33" fill="#2e2e2e" stroke="#111" stroke-width="0.9"/>
<line x1="466.9" y1="243.6" x2="466.9" y2="262.0" stroke="#111" stroke-width="1.0"/>
<line x1="463.29999999999995" y1="243.6" x2="470.5" y2="243.6" stroke="#111" stroke-width="1.0"/>
<line x1="463.29999999999995" y1="262.0" x2="470.5" y2="262.0" stroke="#111" stroke-width="1.0"/>
<rect x="485.80" y="261.64" width="13.80" height="6.06" fill="#fff" stroke="#111" stroke-width="0.9"/>
<line x1="492.70000000000005" y1="257.7" x2="492.70000000000005" y2="265.6" stroke="#111" stroke-width="1.0"/>
<line x1="489.1" y1="257.7" x2="496.30000000000007" y2="257.7" stroke="#111" stroke-width="1.0"/>
<line x1="489.1" y1="265.6" x2="496.30000000000007" y2="265.6" stroke="#111" stroke-width="1.0"/>
<rect x="500.80" y="224.78" width="13.40" height="42.92" fill="#2a2a2a" stroke="#111" stroke-width="0.9"/>
<line x1="507.5" y1="212.8" x2="507.5" y2="236.0" stroke="#111" stroke-width="1.0"/>
<line x1="503.9" y1="212.8" x2="511.1" y2="212.8" stroke="#111" stroke-width="1.0"/>
<line x1="503.9" y1="236.0" x2="511.1" y2="236.0" stroke="#111" stroke-width="1.0"/>
<polyline points="466.6,229.6 466.6,208.2 504.6,208.2" fill="none" stroke="#444" stroke-width="1.2"/>
<text x="472.0" y="221.0" font-size="11.6" font-weight="normal" text-anchor="start" fill="#111" textLength="22.4" lengthAdjust="spacingAndGlyphs" stroke="#111" stroke-width="0.45">p&lt;0.01</text>
<rect x="442.20" y="185.10" width="8.40" height="5.20" fill="#0a0a0a"/>
<rect x="442.80" y="194.20" width="7.40" height="4.90" fill="#fff" stroke="#111" stroke-width="1.1"/>
<text x="453.6" y="190.6" font-size="8.6" font-weight="bold" text-anchor="start" fill="#111" textLength="15.8" lengthAdjust="spacingAndGlyphs" stroke="#111" stroke-width="0.3">Epitope</text>
<text x="453.8" y="199.5" font-size="8.6" font-weight="bold" text-anchor="start" fill="#111" textLength="11.4" lengthAdjust="spacingAndGlyphs" stroke="#111" stroke-width="0.3">Mock</text>
<text transform="translate(422.9 243.4) rotate(-90)" font-size="9.8" font-weight="bold" text-anchor="start" fill="#111" textLength="42.4" lengthAdjust="spacingAndGlyphs" stroke="#111" stroke-width="0.3">SFU/10<tspan font-size="6.4" dy="-3.2">6</tspan><tspan dy="3.2"> cells</tspan></text>
<text x="443.6" y="279.9" font-size="8.4" font-weight="bold" text-anchor="start" fill="#111" textLength="31.6" lengthAdjust="spacingAndGlyphs" stroke="#111" stroke-width="0.3">scAAV2+TLR9i</text>
<text x="484.6" y="279.9" font-size="8.4" font-weight="bold" text-anchor="start" fill="#111" textLength="31.2" lengthAdjust="spacingAndGlyphs" stroke="#111" stroke-width="0.3">scAAV2+Contr</text>
</g>
</svg>
</body></html>
